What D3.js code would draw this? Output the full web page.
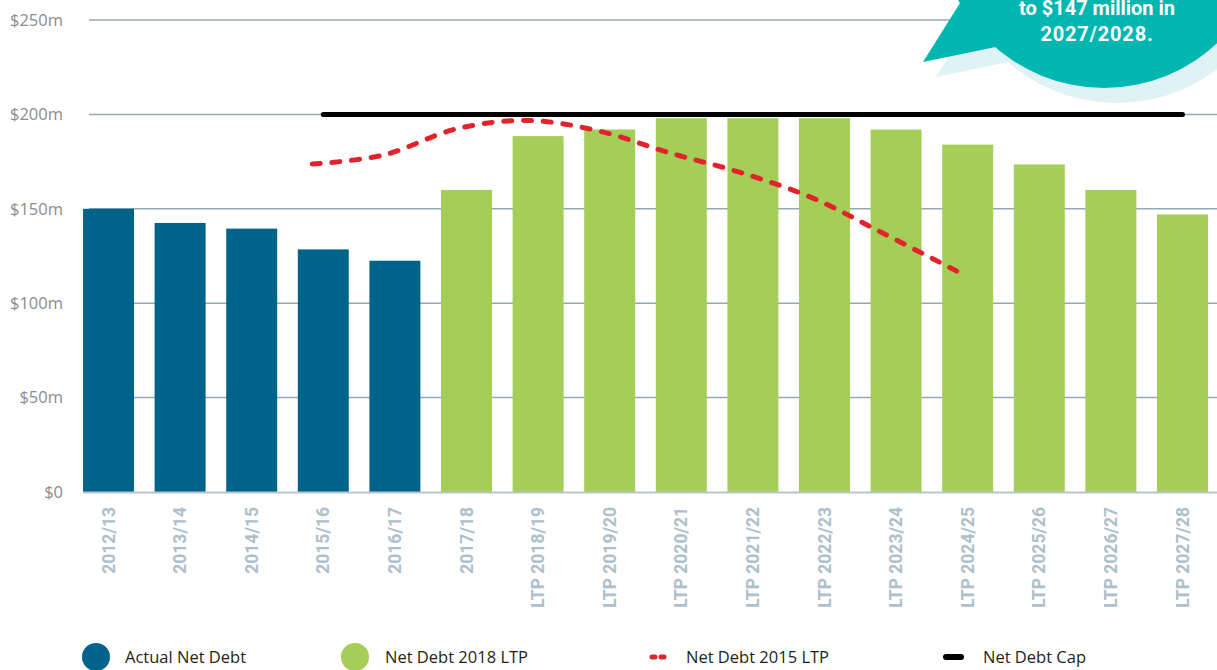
<!DOCTYPE html>
<html>
<head>
<meta charset="utf-8">
<script src="https://cdn.jsdelivr.net/npm/d3@7"></script>
<style>
  body { margin: 0; background: #fff; }
  svg { display: block; }
</style>
</head>
<body>
<div id="chart"></div>
<script>
// data
var years = ['2012/13','2013/14','2014/15','2015/16','2016/17','2017/18',
  'LTP 2018/19','LTP 2019/20','LTP 2020/21','LTP 2021/22','LTP 2022/23',
  'LTP 2023/24','LTP 2024/25','LTP 2025/26','LTP 2026/27','LTP 2027/28']
var actualDebt = [150, 142.5, 139.5, 128.5, 122.5]
var ltp2018Debt = [160, 188.5, 192, 198, 198, 198, 192, 184, 173.5, 160, 147]
var ltp2015Years = ['2015/16','2016/17','2017/18','LTP 2018/19','LTP 2019/20','LTP 2020/21','LTP 2021/22','LTP 2022/23','LTP 2023/24','LTP 2024/25']
var ltp2015Debt = [173.7, 178.5, 192.2, 196.8, 191.2, 179.5, 169, 155.5, 136.5, 117]
var capYears = ['2015/16','LTP 2027/28']
var capValue = 200
var yTicks = [0, 50, 100, 150, 200, 250]
var calloutLines = ['to $147 million in', '2027/2028.']
var legendItems = ['Actual Net Debt','Net Debt 2018 LTP','Net Debt 2015 LTP','Net Debt Cap']

var W = 1217, H = 670
var blue = '#00648a', green = '#a4ce57', red = '#e3232b', teal = '#00b6b1'

var svg = d3.select('#chart').append('svg')
  .attr('width', W).attr('height', H)

var x = d3.scaleBand().domain(years).range([72.7, 1218.3]).paddingInner(0.288).paddingOuter(0.144)
var y = d3.scaleLinear().domain([0, 250]).range([492, 20])
var cx = d => x(d) + x.bandwidth() / 2

// gridlines
svg.append('g').selectAll('line')
  .data(yTicks.filter(t => t > 0))
  .join('line')
  .attr('x1', 89).attr('x2', W)
  .attr('y1', d => y(d)).attr('y2', d => y(d))
  .attr('stroke', '#93a9b6').attr('stroke-width', 1.5)

// y labels
svg.append('g').selectAll('text')
  .data(yTicks)
  .join('text')
  .attr('x', 63).attr('y', d => y(d)).attr('dy', '0.35em')
  .attr('text-anchor', 'end')
  .style('font-family', 'Open Sans').style('font-size', '16.5px').attr('fill', '#8c8c8c')
  .text(d => d == 0 ? '$0' : '$' + d + 'm')

// bars
var bars = years.map((yr, i) => ({
  year: yr,
  value: i < actualDebt.length ? actualDebt[i] : ltp2018Debt[i - actualDebt.length],
  actual: i < actualDebt.length
}))
svg.append('g').selectAll('rect')
  .data(bars)
  .join('rect')
  .attr('x', d => x(d.year)).attr('width', x.bandwidth())
  .attr('y', d => y(d.value)).attr('height', d => y(0) - y(d.value))
  .attr('fill', d => d.actual ? blue : green)

// baseline
svg.append('line')
  .attr('x1', 83).attr('x2', W).attr('y1', y(0) + 0.5).attr('y2', y(0) + 0.5)
  .attr('stroke', '#b7c5cd').attr('stroke-width', 2)

// x labels
svg.append('g').selectAll('text')
  .data(years)
  .join('text')
  .attr('transform', d => `translate(${cx(d)},507) rotate(-90)`)
  .attr('dy', '0.35em').attr('text-anchor', 'end')
  .style('font-family', 'Roboto').style('font-weight', 700).style('font-size', '17.5px')
  .attr('fill', '#adc0cb')
  .text(d => d)

// cap line
svg.append('line')
  .attr('x1', cx(capYears[0])).attr('x2', cx(capYears[1]))
  .attr('y1', y(capValue)).attr('y2', y(capValue))
  .attr('stroke', '#000').attr('stroke-width', 5).attr('stroke-linecap', 'round')

// 2015 LTP dashed line
var shift = -11
var line = d3.line()
  .x((d, i) => cx(ltp2015Years[i]) + shift)
  .y(d => y(d))
  .curve(d3.curveCardinal.tension(0))
var redPath = svg.append('path')
  .attr('d', line(ltp2015Debt))
  .attr('fill', 'none').attr('stroke', red).attr('stroke-width', 5)
  .attr('stroke-linecap', 'round')
// stretch the gaps a little so both ends finish on a dash
var len = redPath.node().getTotalLength()
var n = Math.round((len - 8) / 20)
redPath.attr('stroke-dasharray', '8,' + ((len - 8) / n - 8))

// callout bubble
function bubble(dx, dy) {
  var p = d3.path()
  p.arc(1104 + dx, -77 + dy, 165, 0, 2 * Math.PI)
  p.closePath()
  p.moveTo(923 + dx, 62 + dy)
  p.lineTo(987 + dx, -40 + dy)
  p.lineTo(1010 + dx, 44 + dy)
  p.closePath()
  return p.toString()
}
svg.append('path').attr('d', bubble(13, 15)).attr('fill', '#dff2f6')
svg.append('path').attr('d', bubble(0, 0)).attr('fill', teal)
svg.append('g').selectAll('text')
  .data(calloutLines)
  .join('text')
  .attr('x', 1097).attr('y', (d, i) => 15 + i * 26)
  .attr('text-anchor', 'middle')
  .style('font-family', 'Roboto').style('font-weight', 700).style('font-size', '20px')
  .style('letter-spacing', (d, i) => i ? '0.8px' : '0px')
  .attr('fill', '#fff')
  .text(d => d)

// legend
var ly = 657
var leg = svg.append('g')
leg.append('circle').attr('cx', 96).attr('cy', ly).attr('r', 14).attr('fill', blue)
leg.append('circle').attr('cx', 355).attr('cy', ly).attr('r', 14).attr('fill', green)
leg.append('line').attr('x1', 652).attr('x2', 667).attr('y1', ly).attr('y2', ly)
  .attr('stroke', red).attr('stroke-width', 5).attr('stroke-dasharray', '3,6').attr('stroke-linecap', 'round')
leg.append('line').attr('x1', 946).attr('x2', 961).attr('y1', ly).attr('y2', ly)
  .attr('stroke', '#000').attr('stroke-width', 6).attr('stroke-linecap', 'round')
leg.selectAll('text')
  .data(legendItems)
  .join('text')
  .attr('x', (d, i) => [125, 385, 686, 983][i]).attr('y', ly).attr('dy', '0.35em')
  .style('font-family', 'Open Sans').style('font-size', '16.5px').attr('fill', '#231f20')
  .text(d => d)
</script>
</body>
</html>
